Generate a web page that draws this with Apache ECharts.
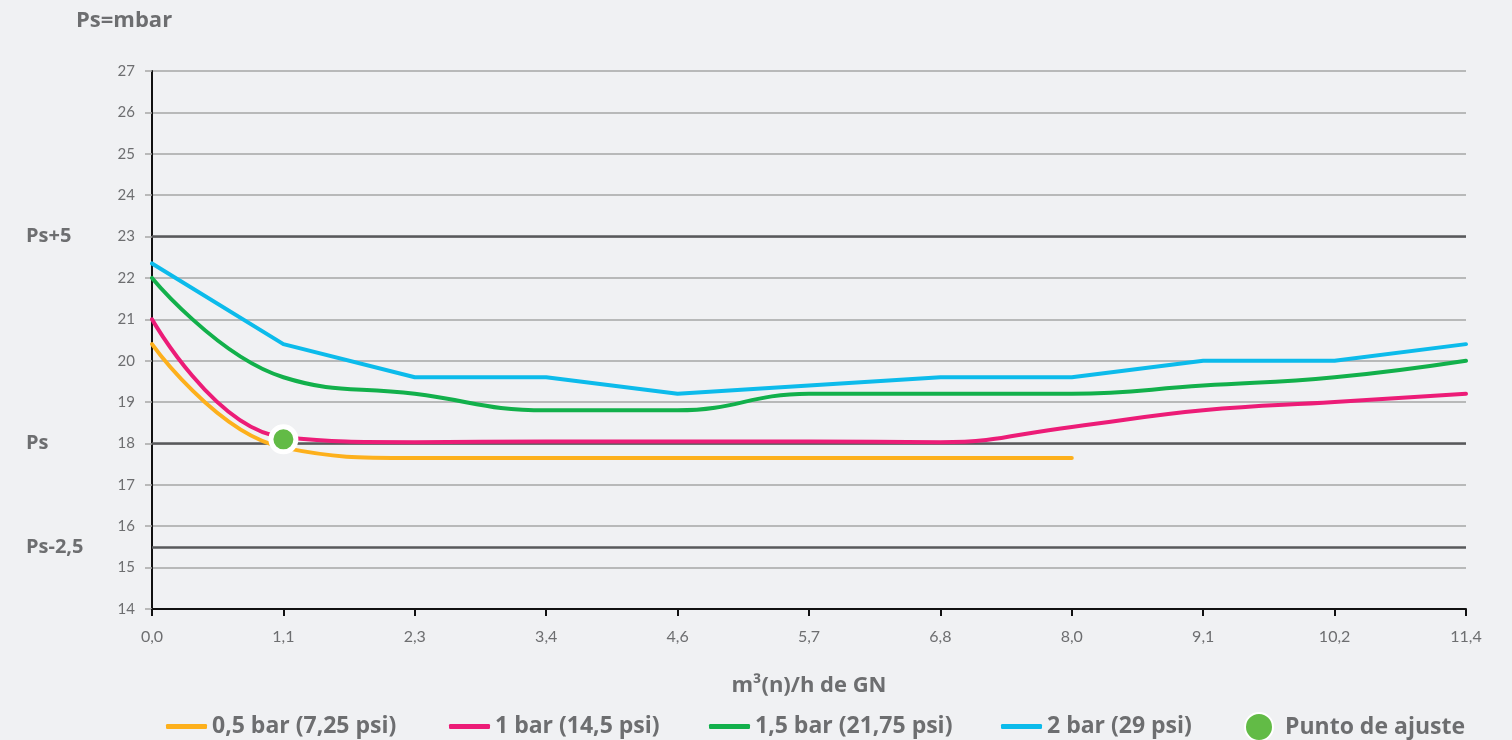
<!DOCTYPE html>
<html>
<head>
<meta charset="utf-8">
<script src="https://cdn.jsdelivr.net/npm/echarts@6/dist/echarts.min.js"></script>
<style>
html,body{margin:0;padding:0;background:#f0f1f3;}
#c{width:1512px;height:740px;}
</style>
</head>
<body>
<div id="c"></div>
<script>
var categories = ['0,0','1,1','2,3','3,4','4,6','5,7','6,8','8,0','9,1','10,2','11,4'];
var s05bar = [20.4, 17.9, 17.65, 17.65, 17.65, 17.65, 17.65, 17.65, null, null, null];
var s1bar = [21.0, 18.15, 18.03, 18.05, 18.05, 18.05, 18.03, 18.4, 18.8, 19.0, 19.2];
var s15bar = [22.0, 19.6, 19.2, 18.8, 18.8, 19.2, 19.2, 19.2, 19.4, 19.6, 20.0];
var s2bar = [22.35, 20.4, 19.6, 19.6, 19.2, 19.4, 19.6, 19.6, 20.0, 20.0, 20.4];
var ajuste = [['1,1', 18.1]];
var refValues = [23, 18, 15.5];
var refLabels = {'23': 'Ps+5', '18': 'Ps', '15.5': 'Ps-2,5'};
var seriesNames = ['0,5 bar (7,25 psi)', '1 bar (14,5 psi)', '1,5 bar (21,75 psi)', '2 bar (29 psi)', 'Punto de ajuste'];
var colors = ['#fdb01c', '#ec1c77', '#12b04b', '#0cbbeb', '#62bb46'];

var FONT = 'Lato, "Open Sans", sans-serif';
var BOLD = '"Open Sans", Lato, sans-serif';
var GREY = '#6d6e70';
var chart = echarts.init(document.getElementById('c'));
function lineSeries(i, data, smooth) {
  return {
    name: seriesNames[i], type: 'line', data: data, smooth: smooth,
    symbol: 'none', connectNulls: false,
    lineStyle: {color: colors[i], width: 4, cap: 'round', join: 'round'},
    itemStyle: {color: colors[i]}, z: 3
  };
}
var series = [
  lineSeries(0, s05bar, 0.45),
  lineSeries(1, s1bar, 0.45),
  lineSeries(2, s15bar, 0.45),
  lineSeries(3, s2bar, false),
  {
    name: seriesNames[4], type: 'scatter', data: ajuste, symbolSize: 25,
    itemStyle: {color: colors[4], borderColor: '#ffffff', borderWidth: 5, opacity: 1}, z: 5
  }
];
series[0].markLine = {
  silent: true, symbol: 'none', label: {show: false},
  lineStyle: {color: '#58595b', width: 2.5, type: 'solid'},
  data: refValues.map(function (v) { return {yAxis: v}; }), z: 2
};
var legendLeft = [161, 444, 704, 996];
var legends = seriesNames.slice(0, 4).map(function (n, i) {
  return {
    data: [{name: n, icon: 'roundRect'}],
    left: legendLeft[i], top: 710, itemWidth: 41, itemHeight: 5, itemGap: 0,
    textStyle: {fontFamily: BOLD, fontSize: 23, fontWeight: 'bold', color: GREY, padding: [0, 0, 0, 0]}
  };
});
legends.push({
  data: [{name: seriesNames[4], icon: 'circle'}],
  left: 1239, top: 707, itemWidth: 28, itemHeight: 28, itemGap: 0,
  textStyle: {fontFamily: BOLD, fontSize: 23, fontWeight: 'bold', color: GREY, padding: [0, 0, 0, 7]}
});
chart.setOption({
  backgroundColor: '#f0f1f3',
  animation: false,
  textStyle: {fontFamily: FONT},
  title: {
    text: 'Ps=mbar', left: 71, top: 5,
    textStyle: {fontFamily: BOLD, fontSize: 22, fontWeight: 'bold', color: GREY}
  },
  grid: {left: 152, right: 46, top: 71, bottom: 131, containLabel: false},
  legend: legends,
  xAxis: {
    type: 'category', data: categories, boundaryGap: false,
    name: 'm³(n)/h de GN', nameLocation: 'middle', nameGap: 66,
    nameTextStyle: {fontFamily: BOLD, fontSize: 22, fontWeight: 'bold', color: GREY},
    axisLine: {lineStyle: {color: '#111111', width: 2}},
    axisTick: {show: true, length: 7, inside: false, lineStyle: {color: '#111111', width: 2}},
    axisLabel: {margin: 20, fontSize: 16, color: GREY, fontFamily: FONT},
    splitLine: {show: false}
  },
  yAxis: [{
    type: 'value', min: 14, max: 27, interval: 1,
    axisLine: {show: true, lineStyle: {color: '#111111', width: 2}},
    axisTick: {show: true, length: 7, lineStyle: {color: '#a6a6a6', width: 1.5}},
    axisLabel: {margin: 17, fontSize: 15, color: GREY, fontFamily: FONT},
    splitLine: {show: true, lineStyle: {color: '#a6a6a6', width: 1.5}}
  }, {
    type: 'value', min: 14, max: 27, interval: 0.5, position: 'left',
    axisLine: {show: false}, axisTick: {show: false}, splitLine: {show: false},
    axisLabel: {
      margin: 126, align: 'left', fontSize: 20, fontWeight: 'bold', color: GREY, fontFamily: BOLD,
      formatter: function (v) { return refLabels[String(v)] || ''; }
    }
  }],
  series: series
});
</script>
</body>
</html>
